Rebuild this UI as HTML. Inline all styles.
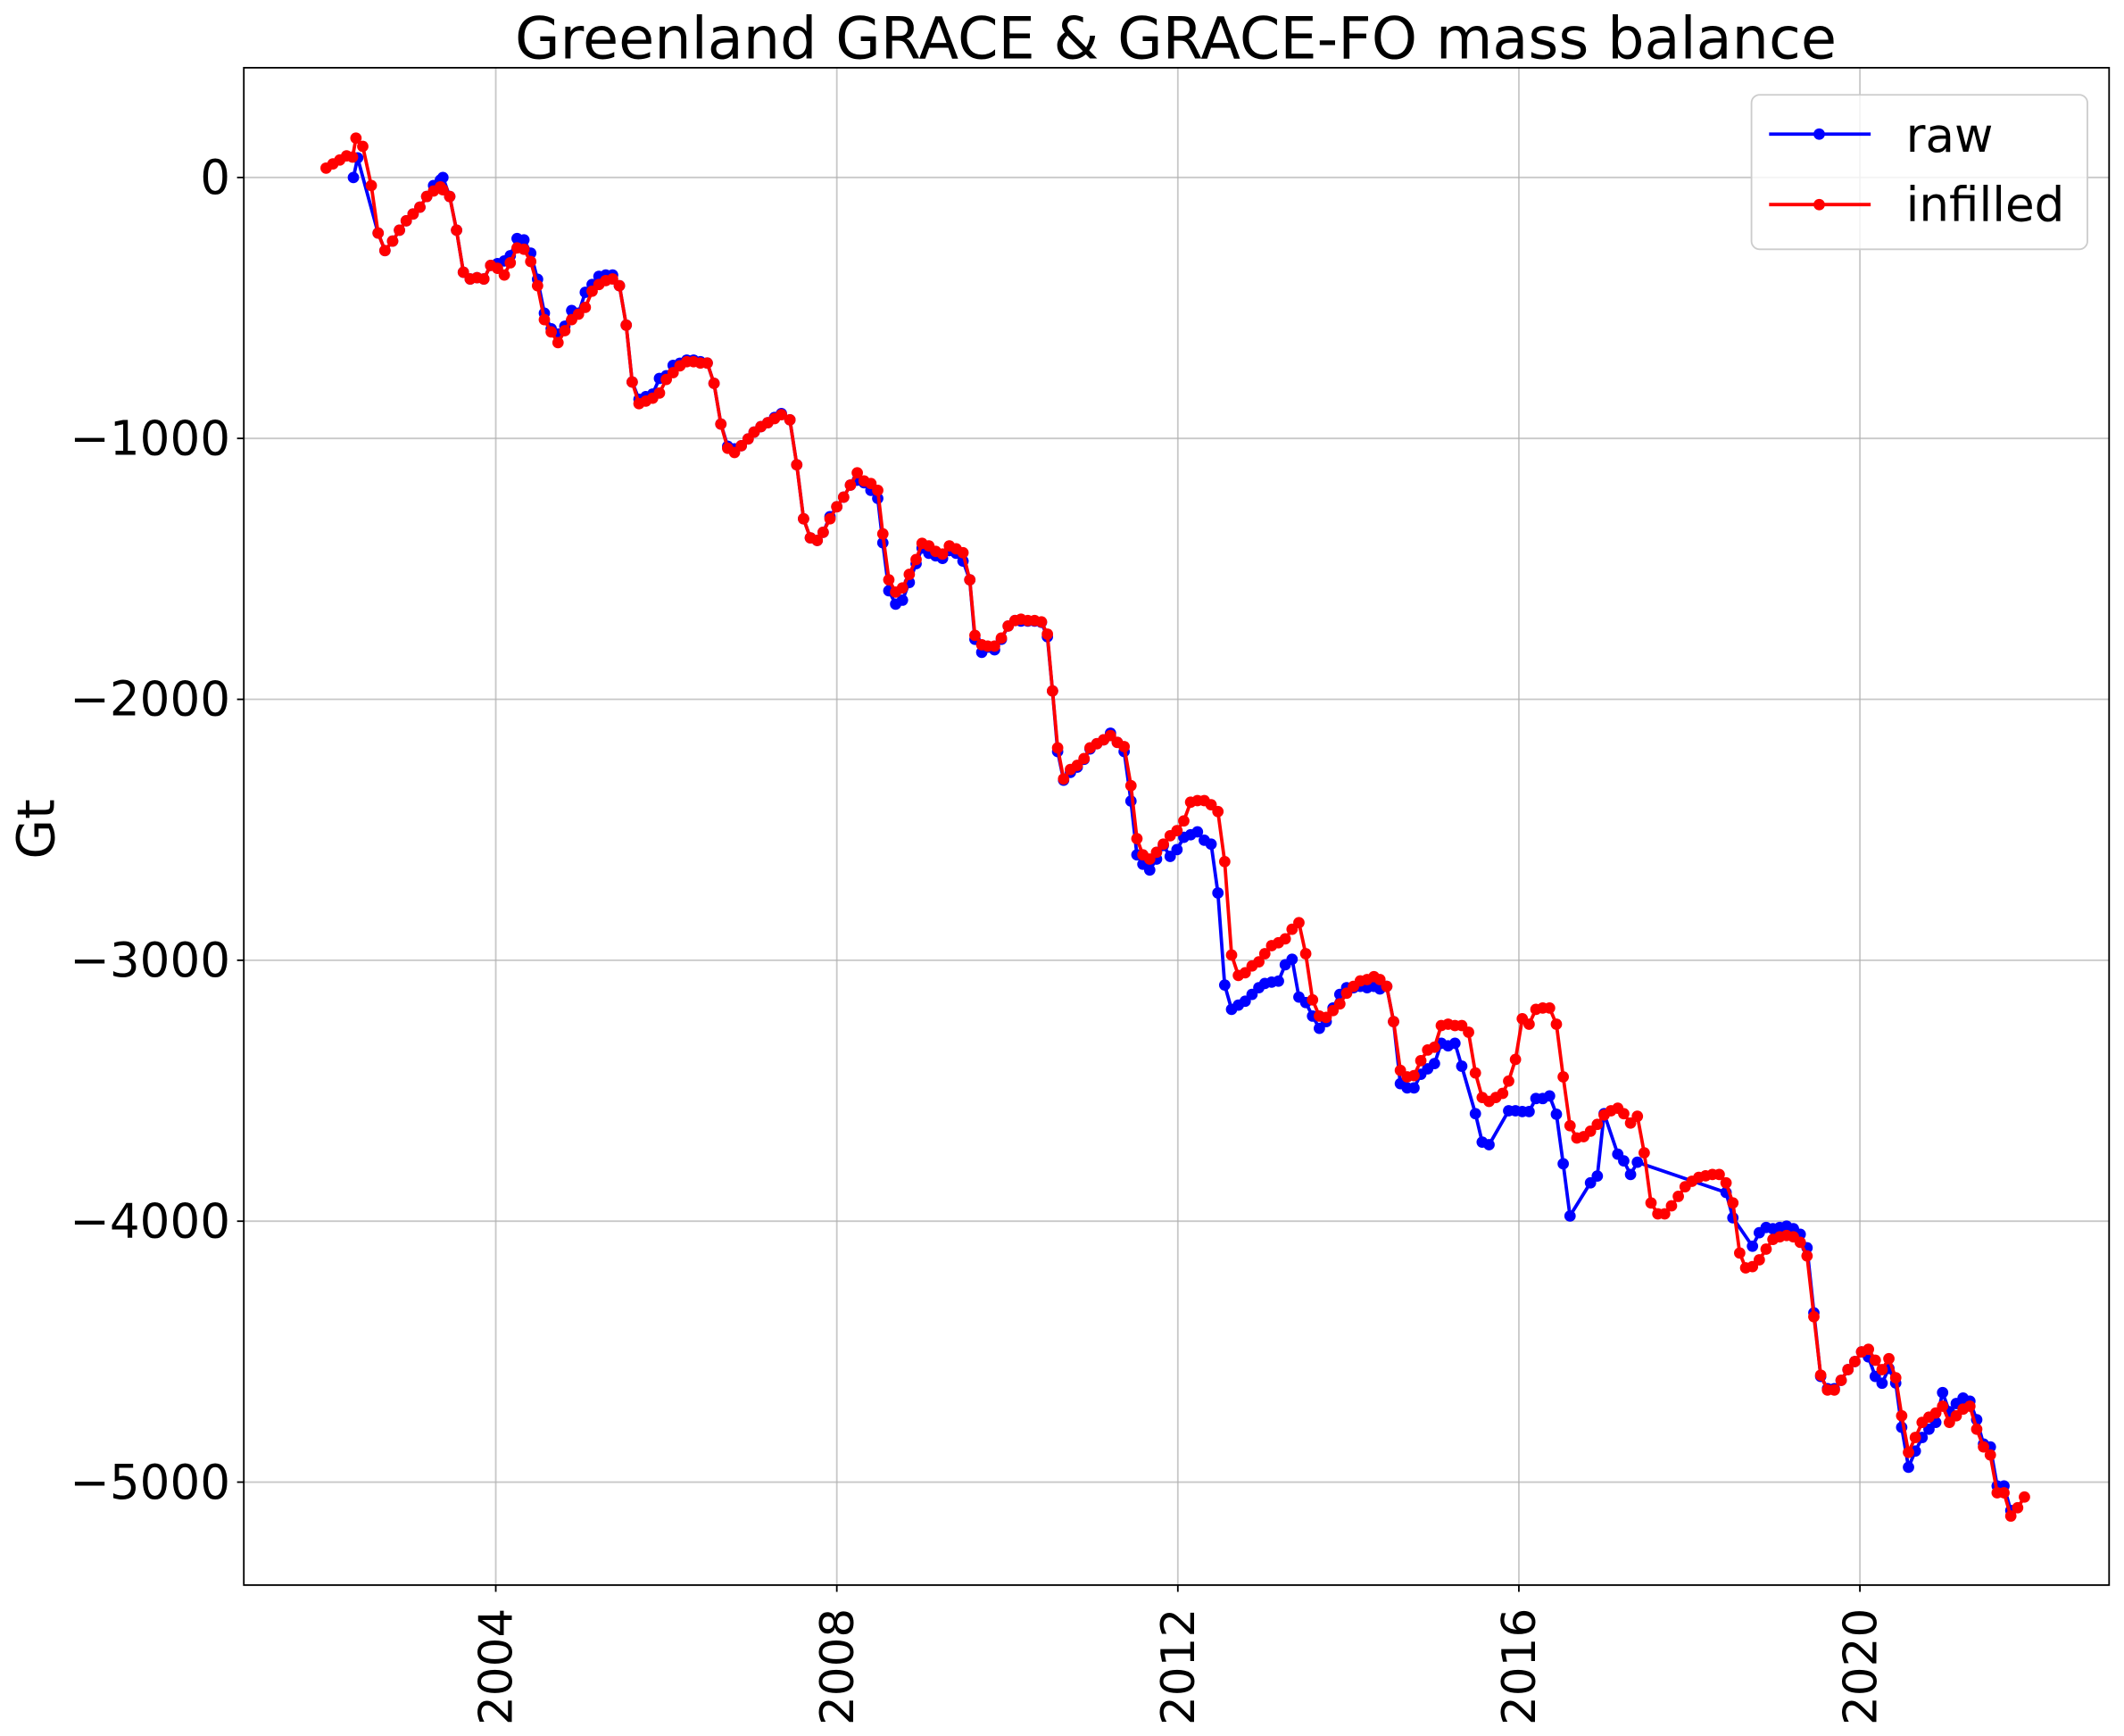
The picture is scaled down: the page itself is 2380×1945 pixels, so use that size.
<!DOCTYPE html>
<html><head><meta charset="utf-8"><style>
html,body{margin:0;padding:0;background:#fff;}
svg{display:block;font-family:"DejaVu Sans","Liberation Sans",sans-serif;}
</style></head><body>
<svg id="chart" width="2380" height="1945" viewBox="0 0 1568 1281.4" preserveAspectRatio="none" xmlns="http://www.w3.org/2000/svg">
<rect width="1568" height="1281.4" fill="#fff"/>
<text x="868" y="43" font-size="43" text-anchor="middle">Greenland GRACE &amp; GRACE-FO mass balance</text>
<text x="40" y="612" font-size="38" text-anchor="middle" transform="rotate(-90 40 612)">Gt</text>
<g id="grid"></g>
<g id="series"></g>
<rect x="180" y="50" width="1377" height="1120" fill="none" stroke="#000" stroke-width="1.2"/>
<g id="ticks"></g>
<g>
<rect x="1293" y="70" width="248" height="114" rx="6" fill="#fff" fill-opacity="0.8" stroke="#ccc" stroke-width="1.2"/>
<g>
<line x1="1306" y1="99" x2="1381" y2="99" stroke="#0000ff" stroke-width="2.5"/><circle cx="1343" cy="99" r="4.2" fill="#0000ff"/>
<text x="1407" y="112" font-size="35">raw</text></g>
<g>
<line x1="1306" y1="151" x2="1381" y2="151" stroke="#ff0000" stroke-width="2.5"/><circle cx="1343" cy="151" r="4.2" fill="#ff0000"/>
<text x="1407" y="163" font-size="35">infilled</text></g>
</g>
</svg>
<script>
const xTicks=[2004,2008,2012,2016,2020];
const yTicks=[0,-1000,-2000,-3000,-4000,-5000];
const yTickLabels=["0","\u22121000","\u22122000","\u22123000","\u22124000","\u22125000"];
const infilledYears=[2002.01,2002.09,2002.17,2002.25,2002.32,2002.36,2002.44,2002.54,2002.62,2002.70,2002.79,2002.87,2002.95,2003.03,2003.11,2003.19,2003.27,2003.35,2003.38,2003.46,2003.54,2003.62,2003.70,2003.78,2003.86,2003.94,2004.02,2004.10,2004.17,2004.25,2004.33,2004.41,2004.49,2004.57,2004.65,2004.73,2004.81,2004.89,2004.97,2005.05,2005.13,2005.21,2005.29,2005.37,2005.45,2005.53,2005.60,2005.68,2005.76,2005.84,2005.92,2006.00,2006.08,2006.16,2006.24,2006.32,2006.40,2006.48,2006.56,2006.64,2006.72,2006.80,2006.88,2006.96,2007.03,2007.11,2007.19,2007.27,2007.35,2007.45,2007.53,2007.61,2007.69,2007.77,2007.84,2007.92,2008.00,2008.08,2008.16,2008.24,2008.32,2008.40,2008.48,2008.54,2008.61,2008.69,2008.77,2008.85,2008.93,2009.00,2009.08,2009.16,2009.24,2009.32,2009.40,2009.48,2009.56,2009.62,2009.70,2009.77,2009.85,2009.93,2010.01,2010.09,2010.16,2010.24,2010.32,2010.40,2010.47,2010.53,2010.59,2010.66,2010.74,2010.82,2010.90,2010.97,2011.05,2011.13,2011.21,2011.29,2011.37,2011.45,2011.52,2011.59,2011.67,2011.75,2011.83,2011.91,2011.99,2012.07,2012.15,2012.23,2012.31,2012.39,2012.47,2012.55,2012.63,2012.71,2012.79,2012.87,2012.95,2013.02,2013.10,2013.18,2013.26,2013.34,2013.42,2013.50,2013.58,2013.66,2013.74,2013.82,2013.90,2013.98,2014.06,2014.14,2014.22,2014.30,2014.37,2014.45,2014.53,2014.61,2014.69,2014.77,2014.85,2014.93,2015.01,2015.09,2015.17,2015.25,2015.33,2015.41,2015.49,2015.57,2015.65,2015.73,2015.81,2015.88,2015.96,2016.04,2016.12,2016.20,2016.28,2016.36,2016.44,2016.52,2016.60,2016.68,2016.76,2016.84,2016.92,2017.00,2017.08,2017.16,2017.23,2017.31,2017.39,2017.47,2017.55,2017.63,2017.71,2017.79,2017.87,2017.95,2018.03,2018.11,2018.19,2018.27,2018.35,2018.43,2018.51,2018.59,2018.66,2018.74,2018.82,2018.90,2018.98,2019.06,2019.14,2019.22,2019.30,2019.38,2019.46,2019.54,2019.62,2019.70,2019.78,2019.86,2019.94,2020.02,2020.10,2020.18,2020.26,2020.34,2020.42,2020.49,2020.57,2020.65,2020.73,2020.81,2020.89,2020.97,2021.05,2021.13,2021.21,2021.29,2021.37,2021.45,2021.53,2021.61,2021.69,2021.77,2021.85,2021.93];
const infilledValues=[36,52,67,83,78,151,119,-31,-213,-280,-244,-202,-166,-140,-114,-73,-52,-36,-47,-73,-202,-363,-389,-384,-389,-337,-348,-374,-327,-270,-275,-322,-415,-545,-592,-633,-587,-545,-524,-498,-436,-410,-395,-389,-415,-566,-784,-867,-857,-846,-826,-774,-748,-722,-706,-706,-711,-711,-789,-945,-1038,-1054,-1028,-1002,-976,-955,-940,-924,-909,-929,-1101,-1308,-1381,-1391,-1360,-1308,-1262,-1225,-1179,-1132,-1163,-1173,-1199,-1366,-1542,-1589,-1573,-1521,-1464,-1402,-1412,-1433,-1443,-1412,-1423,-1438,-1542,-1755,-1791,-1796,-1796,-1765,-1719,-1698,-1693,-1698,-1698,-1703,-1750,-1968,-2186,-2305,-2269,-2253,-2227,-2186,-2170,-2155,-2139,-2165,-2181,-2331,-2534,-2596,-2612,-2586,-2555,-2523,-2503,-2466,-2394,-2388,-2388,-2404,-2430,-2622,-2980,-3058,-3048,-3022,-3006,-2975,-2944,-2933,-2918,-2881,-2856,-2975,-3152,-3214,-3219,-3193,-3167,-3126,-3100,-3079,-3074,-3063,-3074,-3100,-3235,-3422,-3447,-3442,-3385,-3344,-3333,-3250,-3245,-3250,-3250,-3276,-3432,-3526,-3541,-3526,-3510,-3463,-3380,-3224,-3245,-3188,-3183,-3183,-3245,-3447,-3634,-3681,-3676,-3655,-3629,-3593,-3577,-3567,-3588,-3624,-3598,-3738,-3930,-3972,-3972,-3941,-3905,-3868,-3847,-3832,-3826,-3821,-3821,-3853,-3930,-4122,-4179,-4174,-4148,-4107,-4070,-4060,-4055,-4060,-4081,-4133,-4366,-4590,-4647,-4647,-4610,-4569,-4538,-4501,-4491,-4533,-4569,-4527,-4600,-4746,-4886,-4829,-4771,-4751,-4735,-4709,-4771,-4746,-4720,-4709,-4797,-4865,-4896,-5041,-5041,-5130,-5098,-5057];
const rawPoints=[[2002.33,0],[2002.38,75],[2002.62,-213],[2002.70,-280],[2002.79,-244],[2002.87,-202],[2002.95,-166],[2003.03,-140],[2003.11,-114],[2003.19,-73],[2003.27,-31],[2003.35,-10],[2003.38,0],[2003.46,-73],[2003.54,-202],[2003.62,-363],[2003.70,-389],[2003.78,-384],[2003.86,-389],[2003.94,-337],[2004.02,-330],[2004.10,-320],[2004.17,-300],[2004.25,-234],[2004.33,-239],[2004.41,-290],[2004.49,-390],[2004.57,-520],[2004.65,-580],[2004.73,-600],[2004.81,-570],[2004.89,-510],[2004.97,-520],[2005.05,-440],[2005.13,-410],[2005.21,-379],[2005.29,-374],[2005.37,-374],[2005.45,-415],[2005.53,-566],[2005.60,-784],[2005.68,-850],[2005.76,-840],[2005.84,-830],[2005.92,-770],[2006.00,-760],[2006.08,-720],[2006.16,-712],[2006.24,-700],[2006.32,-700],[2006.40,-706],[2006.48,-711],[2006.56,-789],[2006.64,-945],[2006.72,-1030],[2006.80,-1040],[2006.88,-1028],[2006.96,-1002],[2007.03,-976],[2007.11,-955],[2007.19,-940],[2007.27,-920],[2007.35,-905],[2007.45,-929],[2007.53,-1101],[2007.61,-1308],[2007.69,-1381],[2007.77,-1391],[2007.84,-1360],[2007.92,-1300],[2008.00,-1262],[2008.08,-1225],[2008.16,-1179],[2008.24,-1160],[2008.32,-1170],[2008.40,-1199],[2008.48,-1230],[2008.54,-1400],[2008.61,-1584],[2008.69,-1635],[2008.77,-1620],[2008.85,-1552],[2008.93,-1480],[2009.00,-1420],[2009.08,-1440],[2009.16,-1450],[2009.24,-1460],[2009.32,-1430],[2009.40,-1440],[2009.48,-1470],[2009.56,-1542],[2009.62,-1770],[2009.70,-1820],[2009.77,-1800],[2009.85,-1810],[2009.93,-1770],[2010.01,-1719],[2010.09,-1698],[2010.16,-1700],[2010.24,-1700],[2010.32,-1700],[2010.40,-1705],[2010.47,-1760],[2010.53,-1968],[2010.59,-2200],[2010.66,-2310],[2010.74,-2280],[2010.82,-2260],[2010.90,-2230],[2010.97,-2190],[2011.05,-2170],[2011.13,-2155],[2011.21,-2130],[2011.29,-2165],[2011.37,-2200],[2011.45,-2390],[2011.52,-2596],[2011.59,-2632],[2011.67,-2654],[2011.75,-2612],[2011.83,-2560],[2011.91,-2602],[2011.99,-2576],[2012.07,-2529],[2012.15,-2519],[2012.23,-2508],[2012.31,-2540],[2012.39,-2555],[2012.47,-2742],[2012.55,-3095],[2012.63,-3188],[2012.71,-3172],[2012.79,-3157],[2012.87,-3131],[2012.95,-3105],[2013.02,-3089],[2013.10,-3084],[2013.18,-3080],[2013.26,-3017],[2013.34,-2996],[2013.42,-3141],[2013.50,-3162],[2013.58,-3214],[2013.66,-3261],[2013.74,-3235],[2013.82,-3183],[2013.90,-3131],[2013.98,-3105],[2014.06,-3105],[2014.14,-3100],[2014.22,-3105],[2014.30,-3100],[2014.37,-3110],[2014.45,-3100],[2014.53,-3235],[2014.61,-3473],[2014.69,-3489],[2014.77,-3489],[2014.85,-3437],[2014.93,-3416],[2015.01,-3396],[2015.09,-3318],[2015.17,-3328],[2015.25,-3318],[2015.33,-3406],[2015.49,-3588],[2015.57,-3697],[2015.65,-3707],[2015.88,-3577],[2015.96,-3577],[2016.04,-3580],[2016.12,-3580],[2016.20,-3530],[2016.28,-3530],[2016.36,-3520],[2016.44,-3590],[2016.52,-3780],[2016.60,-3980],[2016.84,-3853],[2016.92,-3827],[2017.00,-3588],[2017.16,-3743],[2017.23,-3769],[2017.31,-3821],[2017.39,-3774],[2018.43,-3890],[2018.51,-3987],[2018.74,-4096],[2018.82,-4044],[2018.90,-4024],[2018.98,-4029],[2019.06,-4024],[2019.14,-4019],[2019.22,-4029],[2019.30,-4050],[2019.38,-4102],[2019.46,-4351],[2019.54,-4595],[2019.62,-4642],[2019.70,-4642],[2019.78,-4610],[2019.86,-4569],[2019.94,-4538],[2020.02,-4501],[2020.10,-4520],[2020.18,-4595],[2020.26,-4621],[2020.34,-4564],[2020.42,-4620],[2020.49,-4790],[2020.57,-4943],[2020.65,-4881],[2020.73,-4829],[2020.81,-4797],[2020.89,-4771],[2020.97,-4657],[2021.05,-4730],[2021.13,-4699],[2021.21,-4678],[2021.29,-4690],[2021.37,-4761],[2021.45,-4854],[2021.53,-4865],[2021.61,-5015],[2021.69,-5015],[2021.77,-5109]];

const NS="http://www.w3.org/2000/svg";
const X0=180,X1=1557,Y0=50,Y1=1170;
function xs(t){return 366+(t-2004)*62.94;}
function ys(v){return 131-v/1000*192.6;}
function mk(tag,attrs,parent){const e=document.createElementNS(NS,tag);for(const k in attrs)e.setAttribute(k,attrs[k]);parent.appendChild(e);return e;}
const grid=document.getElementById('grid'),ticks=document.getElementById('ticks'),series=document.getElementById('series');
xTicks.forEach(t=>{
  const x=xs(t);
  const gl=mk('line',{x1:x,x2:x,y1:Y0,y2:Y1,stroke:'#b0b0b0','stroke-width':1.2,'stroke-opacity':0.7},grid);
  
  
  const tk=mk('line',{x1:x,x2:x,y1:Y1,y2:Y1+5,stroke:'#000','stroke-width':1.2},ticks);
  
  
  const tx=mk('text',{x:x+12,y:Y1+17,'font-size':34,'text-anchor':'end',transform:`rotate(-90 ${x+12} ${Y1+17})`},ticks);
  tx.textContent=String(t);
  
  
});
yTicks.forEach((v,i)=>{
  const y=ys(v);
  const gl=mk('line',{x1:X0,x2:X1,y1:y,y2:y,stroke:'#b0b0b0','stroke-width':1.2,'stroke-opacity':0.7},grid);
  
  
  const tk=mk('line',{x1:X0-5,x2:X0,y1:y,y2:y,stroke:'#000','stroke-width':1.2},ticks);
  
  
  const tx=mk('text',{x:X0-10,y:y+12,'font-size':35,'text-anchor':'end'},ticks);
  tx.textContent=yTickLabels[i];
  
  
});
function drawSeries(years,vals,color,name){
  const g=mk('g',{},series);
  
  
  const pts=years.map((t,i)=>xs(t).toFixed(1)+','+ys(vals[i]).toFixed(1)).join(' ');
  const pl=mk('polyline',{points:pts,fill:'none',stroke:color,'stroke-width':2.5,'stroke-linejoin':'round'},g);
  
  
  years.forEach((t,i)=>{
    const c=mk('circle',{cx:xs(t),cy:ys(vals[i]),r:4.2,fill:color},g);
    
    
  });
}
drawSeries(rawPoints.map(p=>p[0]),rawPoints.map(p=>p[1]),'#0000ff','raw');
drawSeries(infilledYears,infilledValues,'#ff0000','infilled');
</script>
</body></html>
